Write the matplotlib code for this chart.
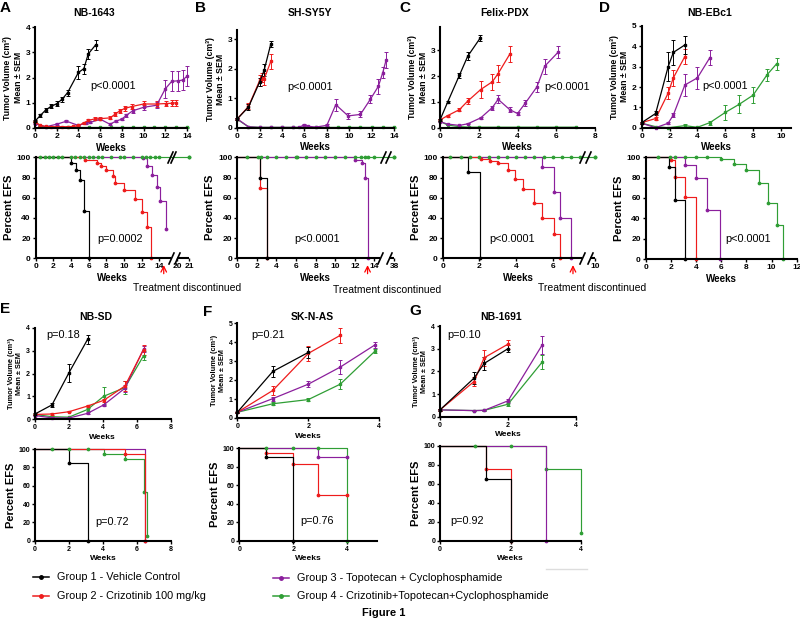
import numpy as np
import matplotlib
matplotlib.use('Agg')
import matplotlib.pyplot as plt

plt.rcParams['font.family'] = ['Liberation Sans', 'DejaVu Sans']

W, H = 800, 619
COLORS = {'black': 'black', 'red': '#ee1c1c', 'purple': '#8b1f9c', 'green': '#2f9e35'}
ORDER = ['green', 'purple', 'red', 'black']

# ---------------- tumor volume data: (weeks, volume, sem) ----------------
A_vol = {
    'black': ([0, 0.5, 1, 1.5, 2, 2.5, 3, 4, 4.5, 4.9, 5.6],
              [0.27, 0.5, 0.72, 0.86, 0.96, 1.14, 1.4, 2.2, 2.35, 2.93, 3.3],
              [0.03, 0.05, 0.08, 0.08, 0.1, 0.1, 0.12, 0.25, 0.2, 0.2, 0.2]),
    'red': ([0, 0.5, 1, 1.5, 2, 2.5, 3, 3.5, 4, 4.5, 4.9, 5.5, 6, 6.9, 7.4, 7.8, 8.3, 8.9, 10, 11.2, 12.1, 12.6, 13],
            [0.24, 0.1, 0.06, 0.05, 0.05, 0.05, 0.05, 0.06, 0.1, 0.2, 0.3, 0.36, 0.37, 0.4, 0.55, 0.68, 0.78, 0.85, 0.95, 0.95, 0.97, 0.98, 1.0],
            [0.02, 0.02, 0.02, 0.02, 0.02, 0.02, 0.02, 0.02, 0.03, 0.04, 0.05, 0.06, 0.06, 0.06, 0.08, 0.08, 0.1, 0.1, 0.1, 0.1, 0.1, 0.12, 0.12]),
    'purple': ([0, 1, 2, 2.9, 4, 4.7, 5.1, 6, 6.9, 7.5, 8, 8.4, 9, 10, 11.2, 12, 12.6, 13.2, 13.6, 14],
               [0.17, 0.05, 0.15, 0.27, 0.1, 0.2, 0.22, 0.35, 0.15, 0.28, 0.35, 0.5, 0.68, 0.82, 0.9, 1.55, 1.85, 1.87, 1.9, 2.05],
               [0.02, 0.02, 0.03, 0.04, 0.03, 0.04, 0.04, 0.05, 0.03, 0.05, 0.05, 0.07, 0.08, 0.1, 0.12, 0.35, 0.4, 0.4, 0.4, 0.4]),
    'green': ([0, 0.5, 1, 2, 3, 4, 5, 6, 7, 8, 9, 10, 11, 12, 13, 14],
              [0.25, 0.08, 0.03, 0.02, 0.02, 0.02, 0.02, 0.02, 0.02, 0.02, 0.02, 0.02, 0.02, 0.02, 0.02, 0.02],
              [0.01] * 16),
}
B_vol = {
    'black': ([0, 1, 2, 2.4, 3], [0.3, 0.7, 1.55, 1.95, 2.85], [0.03, 0.1, 0.15, 0.2, 0.1]),
    'red': ([0, 1, 2, 2.2, 2.4, 3], [0.3, 0.72, 1.6, 1.7, 1.65, 2.25], [0.03, 0.1, 0.2, 0.15, 0.2, 0.25]),
    'purple': ([0, 1, 2, 3, 4, 5, 5.5, 6, 6.3, 7, 8, 8.8, 9.9, 11, 11.9, 12.6, 13, 13.3],
               [0.3, 0.03, 0.01, 0.01, 0.01, 0.01, 0.01, 0.1, 0.05, 0.02, 0.08, 0.78, 0.4, 0.45, 0.97, 1.4, 1.87, 2.3],
               [0.02, 0.01, 0.01, 0.01, 0.01, 0.01, 0.01, 0.03, 0.02, 0.01, 0.03, 0.2, 0.1, 0.1, 0.15, 0.25, 0.2, 0.28]),
    'green': ([0, 1, 2, 3, 4, 5, 6, 7, 8, 9, 10, 11, 12, 13, 14],
              [0.28, 0.03, 0.01, 0.01, 0.01, 0.01, 0.01, 0.01, 0.01, 0.01, 0.01, 0.01, 0.01, 0.01, 0.01],
              [0.01] * 15),
}
C_vol = {
    'black': ([0, 0.4, 1, 1.43, 2.07], [0.3, 1.0, 2.03, 2.77, 3.47], [0.03, 0.05, 0.1, 0.15, 0.12]),
    'red': ([0, 0.4, 1, 1.43, 2.1, 2.7, 3, 3.6], [0.3, 0.47, 0.7, 1.03, 1.48, 1.78, 2.1, 2.85],
            [0.02, 0.04, 0.07, 0.12, 0.32, 0.3, 0.32, 0.3]),
    'purple': ([0, 0.4, 1, 1.43, 2.1, 2.7, 3, 3.6, 4, 4.4, 5, 5.4, 6.1],
               [0.23, 0.14, 0.09, 0.15, 0.38, 0.78, 1.1, 0.7, 0.55, 0.95, 1.58, 2.38, 2.93],
               [0.02, 0.02, 0.02, 0.02, 0.04, 0.08, 0.15, 0.1, 0.06, 0.12, 0.18, 0.3, 0.22]),
    'green': ([0, 0.4, 1, 1.5, 2, 3, 4, 5, 6, 7], [0.25, 0.1, 0.04, 0.02, 0.02, 0.02, 0.02, 0.02, 0.02, 0.02], [0.01] * 10),
}
D_vol = {
    'black': ([0, 1, 1.9, 2.27, 3.1], [0.25, 0.7, 3.0, 3.7, 4.07], [0.05, 0.1, 0.7, 0.6, 0.45]),
    'red': ([0, 1, 1.9, 2.27, 3.1], [0.25, 0.45, 1.7, 2.45, 3.5], [0.05, 0.08, 0.3, 0.4, 0.35]),
    'purple': ([0, 1, 1.9, 2.27, 3.1, 4, 4.9], [0.22, 0.0, 0.22, 0.62, 2.1, 2.45, 3.45],
               [0.03, 0.02, 0.05, 0.1, 0.55, 0.55, 0.35]),
    'green': ([0, 1, 1.9, 3.1, 4, 4.9, 6, 7, 8, 9, 9.7], [0.22, 0.05, 0.0, 0.1, 0.02, 0.25, 0.75, 1.15, 1.6, 2.6, 3.15],
              [0.03, 0.03, 0.03, 0.08, 0.03, 0.1, 0.35, 0.45, 0.4, 0.3, 0.3]),
}
E_vol = {
    'black': ([0, 1, 2, 3.1], [0.22, 0.62, 2.03, 3.5], [0.03, 0.08, 0.4, 0.2]),
    'red': ([0, 1, 2, 3.1, 4.05, 5.3, 6.4], [0.2, 0.22, 0.32, 0.57, 0.82, 1.45, 3.05], [0.02, 0.03, 0.03, 0.05, 0.08, 0.2, 0.22]),
    'purple': ([0, 1, 2, 3.1, 4.05, 5.3, 6.4], [0.15, 0.05, 0.04, 0.25, 0.62, 1.35, 3.08], [0.02, 0.02, 0.02, 0.04, 0.05, 0.15, 0.15]),
    'green': ([0, 1, 2, 3.1, 4.05, 5.3, 6.4], [0.2, 0.1, 0.08, 0.42, 1.0, 1.38, 2.78], [0.02, 0.02, 0.02, 0.08, 0.4, 0.3, 0.2]),
}
F_vol = {
    'black': ([0, 1, 2], [0.3, 2.45, 3.45], [0.02, 0.3, 0.3]),
    'red': ([0, 1, 2, 2.9], [0.3, 1.45, 3.4, 4.35], [0.02, 0.25, 0.4, 0.4]),
    'purple': ([0, 1, 2, 2.9, 3.88], [0.3, 1.02, 1.78, 2.68, 3.85], [0.02, 0.1, 0.15, 0.35, 0.15]),
    'green': ([0, 1, 2, 2.9, 3.88], [0.3, 0.75, 0.97, 1.78, 3.52], [0.02, 0.08, 0.1, 0.25, 0.1]),
}
G_vol = {
    'black': ([0, 1, 1.3, 2], [0.3, 1.7, 2.35, 3.0], [0.03, 0.25, 0.3, 0.15]),
    'red': ([0, 1, 1.3, 2], [0.3, 1.55, 2.6, 3.2], [0.03, 0.2, 0.35, 0.2]),
    'purple': ([0, 1, 1.3, 2, 3], [0.3, 0.27, 0.28, 0.7, 3.15], [0.02, 0.02, 0.02, 0.1, 0.4]),
    'green': ([0, 1, 1.3, 2, 3], [0.3, 0.27, 0.28, 0.55, 2.4], [0.02, 0.02, 0.02, 0.08, 0.3]),
}

# ---------------- EFS data: (step times, percent) + extra censor marks at 100 ----------------
A_efs = {
    'black': ([0, 4, 4.6, 5, 5.45, 6], [100, 94, 87, 78, 47, 0]),
    'red': ([0, 5.6, 6.9, 7.4, 8, 8.7, 9, 10, 11.3, 12, 12.6, 13.1], [100, 97, 94, 91, 87, 81, 75, 68, 59, 46, 31, 0]),
    'purple': ([0, 12.2, 12.6, 13.2, 13.7, 14.1, 14.8], [100, 99, 91, 82, 71, 57, 29]),
    'green': ([0, 21], [100, 100]),
}
A_marks = [0.5, 1, 1.5, 2, 2.5, 3, 4, 4.5, 5, 5.5, 6, 6.5, 7, 7.5, 8.5, 9.5, 10, 11, 12, 12.5, 13, 13.5, 14, 21]
B_efs = {
    'black': ([0, 2.3, 3.0], [100, 80, 0]),
    'red': ([0, 2.3, 3.0], [100, 70, 0]),
    'purple': ([0, 12.0, 12.7, 13.0, 13.3], [100, 97, 94, 80, 0]),
    'green': ([0, 38], [100, 100]),
}
B_marks = [1, 2.1, 2.4, 3, 4, 5, 6, 6.1, 7, 8, 9, 10, 11, 12, 12.6, 13, 13.3, 14, 38]
C_efs = {
    'black': ([0, 1.4, 2.05], [100, 85, 0]),
    'red': ([0, 2.1, 2.6, 3.0, 3.55, 3.95, 4.35, 5.0, 5.4, 6.05, 6.4], [100, 98, 96, 94, 87, 79, 69, 55, 40, 24, 0]),
    'purple': ([0, 5.4, 6.05, 6.4, 7.0], [100, 90, 66, 40, 0]),
    'green': ([0, 10], [100, 100]),
}
C_marks = [0.4, 1, 1.5, 2, 2.5, 3, 3.5, 4, 4.5, 5, 5.5, 6, 6.5, 7, 7.5, 10]
D_efs = {
    'black': ([0, 1.85, 2.3, 3.1], [100, 90, 58, 0]),
    'red': ([0, 2.0, 2.3, 3.1, 4.0], [100, 97, 81, 61, 0]),
    'purple': ([0, 3.1, 4.0, 4.9, 5.9], [100, 92, 80, 48, 0]),
    'green': ([0, 6.0, 7.0, 8.0, 9.0, 9.7, 10.4, 10.9], [100, 98, 93, 88, 75, 55, 33, 0]),
}
D_marks = [1, 1.9, 2.3, 3.1, 4, 4.9]
E_efs = {
    'black': ([0, 2, 3.1], [100, 85, 0]),
    'red': ([0, 5.3, 6.45], [100, 95, 0]),
    'purple': ([0, 6.45], [100, 0]),
    'green': ([0, 4.05, 5.3, 6.4, 6.6], [100, 95, 89, 53, 5]),
}
E_marks = [1, 2, 3.1]
F_efs = {
    'black': ([0, 1, 2], [100, 91, 0]),
    'red': ([0, 1, 2, 2.9, 4], [100, 95, 83, 50, 50]),
    'purple': ([0, 2.9, 4], [100, 91, 91]),
    'green': ([0, 4], [100, 0]),
}
F_marks = [1, 2, 2.9]
G_efs = {
    'black': ([0, 1.3, 2], [100, 65, 0]),
    'red': ([0, 1.3, 2], [100, 75, 0]),
    'purple': ([0, 3], [100, 0]),
    'green': ([0, 3, 4], [100, 75, 8]),
}
G_marks = [1, 2]

legend_labels = ['Group 1 - Vehicle Control', 'Group 2 - Crizotinib 100 mg/kg',
                 'Group 3 - Topotecan + Cyclophosphamide', 'Group 4 - Crizotinib+Topotecan+Cyclophosphamide']


def brk_A(t):
    t = np.asarray(t, float)
    return np.where(t <= 16, t, 16.04 + (t - 20) * 1.32)


def brk_B(t):
    t = np.asarray(t, float)
    return np.where(t <= 15, t, 16.0 + (t - 38) * 0.05)


def brk_C(t):
    t = np.asarray(t, float)
    return np.where(t <= 8, t, 8.3 + (t - 10) * 0.3)


def ident(t):
    return np.asarray(t, float)


fig = plt.figure(figsize=(8, 6.19), dpi=100)


def add_ax(left, right, top, bottom):
    return fig.add_axes([left / W, 1 - bottom / H, (right - left) / W, (bottom - top) / H])


def style(ax, fs):
    for s in ['top', 'right']:
        ax.spines[s].set_visible(False)
    for s in ['left', 'bottom']:
        ax.spines[s].set_linewidth(1.5)
    ax.tick_params(direction='out', length=2.5, width=1, labelsize=fs, pad=1)
    for lab in ax.get_xticklabels() + ax.get_yticklabels():
        lab.set_fontweight('bold')


def tumor(ax, data, xlim, ylim, xticks, yticks, fs, lab_fs):
    for g in ORDER:
        x, y, e = data[g]
        ax.errorbar(x, y, yerr=e, color=COLORS[g], marker='s', ms=1.7, lw=0.9,
                    elinewidth=0.7, capsize=1.5, capthick=0.7, clip_on=False)
    ax.set_xlim(*xlim)
    ax.set_ylim(*ylim)
    ax.set_xticks(xticks)
    ax.set_yticks(yticks)
    ax.set_xlabel('Weeks', fontsize=lab_fs, fontweight='bold', labelpad=2)
    ax.set_ylabel('Tumor Volume (cm³)\nMean ± SEM', fontsize=lab_fs - 0.7, fontweight='bold', labelpad=2)
    style(ax, fs)


def efs(ax, data, marks, f, xlim, xticks, xticklabels, fs, lab_fs, ylab_fs):
    for g in ORDER:
        t, s = data[g]
        ax.step(f(t), s, where='post', color=COLORS[g], lw=0.85, clip_on=False)
        ax.plot(f(t[1:]), s[1:], 'o', color=COLORS[g], ms=1.7, clip_on=False)
    ax.plot(f(marks), [100] * len(marks), 'o', color=COLORS['green'], ms=1.7, clip_on=False)
    ax.set_xlim(*xlim)
    ax.set_ylim(0, 100)
    ax.set_xticks(xticks)
    ax.set_xticklabels(xticklabels)
    ax.set_yticks([0, 20, 40, 60, 80, 100])
    ax.set_xlabel('Weeks', fontsize=lab_fs, fontweight='bold', labelpad=2)
    ax.set_ylabel('Percent EFS', fontsize=ylab_fs, fontweight='bold', labelpad=2)
    style(ax, fs)


def broken(ax, seg1, seg2, top_x):
    ax.spines['bottom'].set_visible(False)
    for a, b in [seg1, seg2]:
        ax.plot([a, b], [0, 0], color='k', lw=1.5, clip_on=False, solid_capstyle='butt')
    slash = [(-1, -2.2), (1, 2.2)]
    for x in [seg1[1], seg2[0]]:
        ax.plot([x], [0], marker=slash, ms=9, mew=1.2, color='k', clip_on=False)
    for x in top_x:
        ax.plot([x], [100], marker=slash, ms=9, mew=1.2, color='k', clip_on=False)


# ---------------- top row ----------------
ax = add_ax(35, 187, 27, 128)
tumor(ax, A_vol, (0, 14), (0, 4), range(0, 15, 2), range(0, 5), 6, 7)
ax = add_ax(35.7, 189, 157.3, 258.3)
efs(ax, A_efs, A_marks, brk_A, (0, 17.36), list(range(0, 15, 2)) + [16.04, 17.36],
    [str(v) for v in range(0, 15, 2)] + ['20', '21'], 6, 7, 8)
broken(ax, (0, 15.3), (16.0, 17.36), [15.2, 15.6])
ax.annotate('', xy=(14.5, -4), xytext=(14.5, -18), annotation_clip=False,
            arrowprops=dict(arrowstyle='->', color='red', lw=0.9))

ax = add_ax(237.3, 394, 30.3, 127.7)
tumor(ax, B_vol, (0, 14), (0, 3.3), range(0, 15, 2), range(0, 4), 6, 7)
ax = add_ax(237.3, 394, 157.3, 258.3)
efs(ax, B_efs, B_marks, brk_B, (0, 16), list(range(0, 15, 2)) + [16],
    [str(v) for v in range(0, 15, 2)] + ['38'], 6, 7, 8)
broken(ax, (0, 14.6), (15.5, 16), [14.9, 15.4])
ax.annotate('', xy=(13.3, -4), xytext=(13.3, -18), annotation_clip=False,
            arrowprops=dict(arrowstyle='->', color='red', lw=0.9))

ax = add_ax(440, 595, 27.1, 127.7)
tumor(ax, C_vol, (0, 8), (0, 3.9), range(0, 9, 2), range(0, 4), 6, 7)
ax = add_ax(442.7, 595, 157.3, 258.3)
efs(ax, C_efs, C_marks, brk_C, (0, 8.3), [0, 2, 4, 6, 8.3], ['0', '2', '4', '6', '10'], 6, 7, 8)
broken(ax, (0, 7.6), (8.05, 8.3), [7.6, 7.9])
ax.annotate('', xy=(7.1, -4), xytext=(7.1, -18), annotation_clip=False,
            arrowprops=dict(arrowstyle='->', color='red', lw=0.9))

ax = add_ax(641.7, 790.7, 26, 127.7)
tumor(ax, D_vol, (0, 10.7), (0, 5), range(0, 11, 2), range(0, 6), 6, 7)
ax = add_ax(645.7, 796.7, 157.3, 259)
efs(ax, D_efs, D_marks, ident, (0, 12), range(0, 13, 2), [str(v) for v in range(0, 13, 2)], 6, 7, 8)

# ---------------- bottom row ----------------
ax = add_ax(35, 170.7, 328, 419)
tumor(ax, E_vol, (0, 8), (0, 4), range(0, 9, 2), range(0, 5), 5, 6)
ax = add_ax(35, 171, 449, 540.7)
efs(ax, E_efs, E_marks, ident, (0, 8), range(0, 9, 2), [str(v) for v in range(0, 9, 2)], 5, 6, 8)

ax = add_ax(237.3, 379.3, 323, 418)
tumor(ax, F_vol, (0, 4), (0, 5), [0, 2, 4], range(0, 6), 5, 6)
ax = add_ax(239.3, 377, 448.3, 540.7)
efs(ax, F_efs, F_marks, ident, (0, 5.1), [0, 2, 4], ['0', '2', '4'], 5, 6, 8)

ax = add_ax(440, 576, 326, 416.7)
tumor(ax, G_vol, (0, 4), (0, 4), [0, 2, 4], range(0, 5), 5, 6)
ax = add_ax(440, 581, 445.7, 540.7)
efs(ax, G_efs, G_marks, ident, (0, 4), [0, 2, 4], ['0', '2', '4'], 5, 6, 8)

# ---------------- overlay text in pixel coordinates ----------------
ov = fig.add_axes([0, 0, 1, 1])
ov.set_xlim(0, W)
ov.set_ylim(H, 0)
ov.axis('off')

for letter, x, y in [('A', 5, 8), ('B', 200, 8), ('C', 405, 8), ('D', 604, 8),
                     ('E', 5, 309), ('F', 208, 312), ('G', 415, 311)]:
    ov.text(x, y, letter, fontsize=11, fontweight='bold', ha='center', va='center')

for name, x, y in [('NB-1643', 94, 13), ('SH-SY5Y', 310, 13), ('Felix-PDX', 505, 13), ('NB-EBc1', 710, 13),
                   ('NB-SD', 96, 317), ('SK-N-AS', 312, 317), ('NB-1691', 501, 317)]:
    ov.text(x, y, name, fontsize=7.5, fontweight='bold', ha='center', va='center')

for txt, x, y in [('p<0.0001', 113, 86), ('p=0.0002', 120, 239), ('p<0.0001', 310, 87), ('p<0.0001', 317, 239),
                  ('p<0.0001', 567, 87), ('p<0.0001', 512, 239), ('p<0.0001', 725, 86), ('p<0.0001', 748, 239),
                  ('p=0.18', 63, 335), ('p=0.72', 112, 522), ('p=0.21', 268, 335), ('p=0.76', 317, 521),
                  ('p=0.10', 464, 335), ('p=0.92', 467, 521)]:
    ov.text(x, y, txt, fontsize=7.8, ha='center', va='center')

for x, y in [(133, 288), (333, 290), (538, 288)]:
    ov.text(x, y, 'Treatment discontinued', fontsize=7.5, ha='left', va='center')

for (lx, ly), g, lab in zip([(33, 577), (33, 596), (273, 578), (273, 596)],
                            ['black', 'red', 'purple', 'green'], legend_labels):
    ov.plot([lx, lx + 16], [ly, ly], color=COLORS[g], lw=1.1)
    ov.plot([lx + 8], [ly], 'o', color=COLORS[g], ms=2.5)
    ov.text(lx + 24, ly, lab, fontsize=7.8, ha='left', va='center')

ov.plot([546, 587], [569, 569], color='#dddddd', lw=1)
ov.text(384, 613, 'Figure 1', fontsize=8, fontweight='bold', ha='center', va='center')

fig.savefig('out.png', dpi=100)
